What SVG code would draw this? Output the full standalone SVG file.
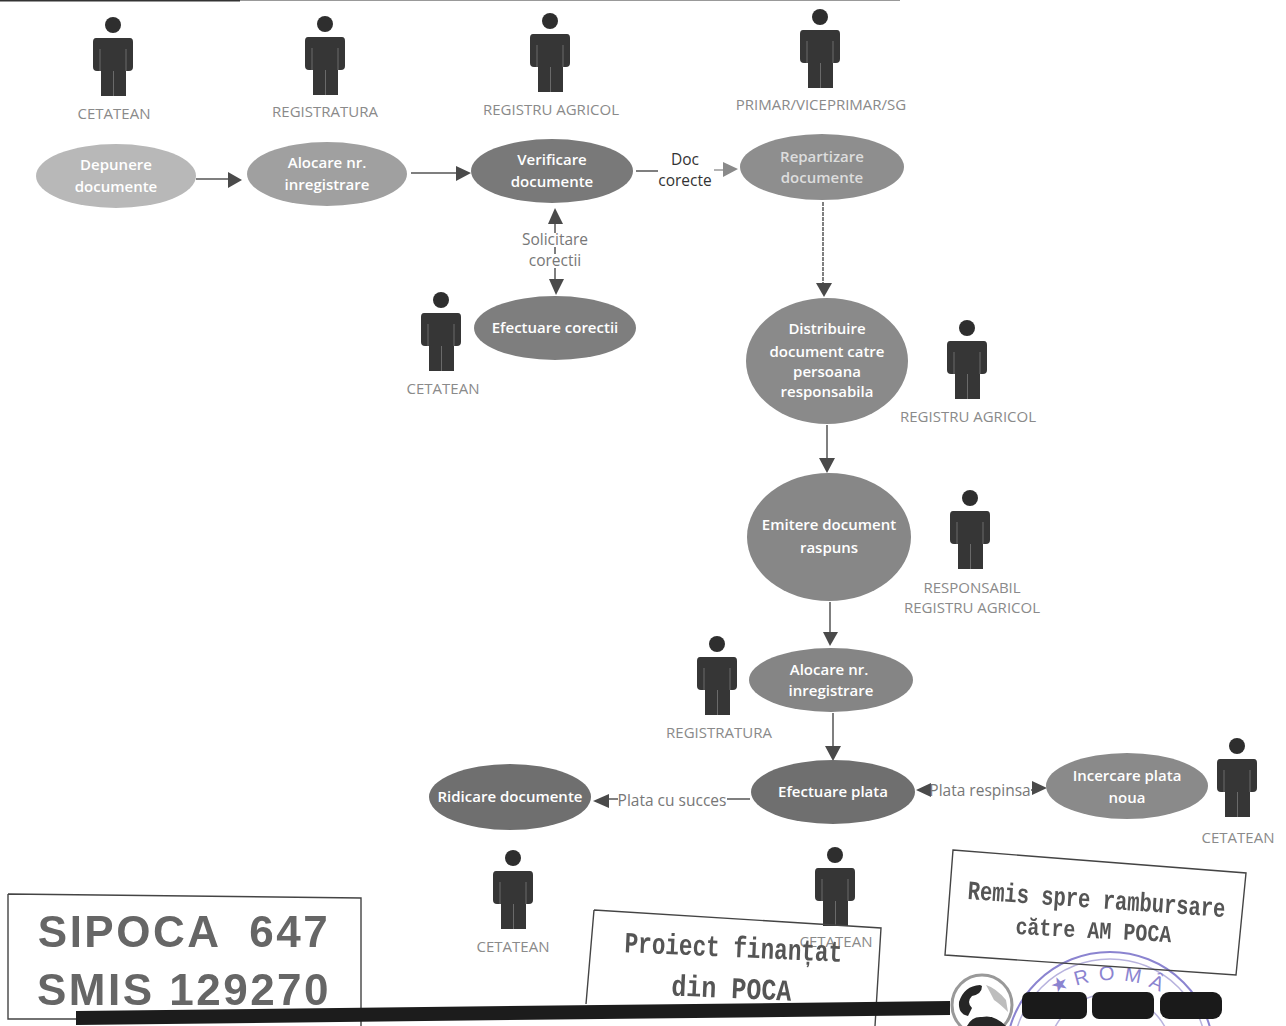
<svg xmlns="http://www.w3.org/2000/svg" width="1286" height="1026" viewBox="0 0 1286 1026">
<style>
.n{stroke:none}
.t{font-family:"Open Sans","Liberation Sans",sans-serif;font-size:15px;fill:#fff;text-anchor:middle;font-weight:600}
.l{font-family:"Open Sans","Liberation Sans",sans-serif;font-size:15px;fill:#8a8a8a;text-anchor:middle}
.c{font-family:"Open Sans","Liberation Sans",sans-serif;font-size:15.5px;fill:#777;text-anchor:middle}
.e{stroke:#555;stroke-width:1.5;fill:none}
.d{fill:#4a4a4a}
.s{fill:none;stroke:#444;stroke-width:1.4}
.b{font-family:"Liberation Sans",sans-serif;font-weight:700;fill:#666;text-anchor:middle}
.m{font-family:"Liberation Mono",monospace;font-weight:700;fill:#555;text-anchor:middle}
.p{font-family:"Liberation Sans",sans-serif;font-size:20px;fill:#8b84d0;text-anchor:middle}
</style>
<defs>
<g id="person"><circle cx="0" cy="0" r="8" fill="#2e2e2e"/><path fill="#363636" d="M-17 13H17Q20 13 20 17V42Q20 46 16 46L13 46V71H-12V46H-16Q-20 46-20 42V17Q-20 13-17 13Z"/><path d="M-13 24V46M13 24V46M0.5 46V71" stroke="#6a6a6a" fill="none"/></g>
<filter id="soft" x="-5%" y="-5%" width="110%" height="110%"><feGaussianBlur stdDeviation="0.5"/></filter>
</defs>
<path d="M0 0.5H240" stroke="#333" stroke-width="2"/><path d="M240 0.5H900" stroke="#999" stroke-width="1"/>

<g id="connectors">
<path class="e" d="M196 179H230"/><path class="d" d="M242 180L228 172V188Z"/>
<path class="e" d="M411 173H458"/><path class="d" d="M471 173L456 166V181Z"/>
<path class="e" d="M636 171H658"/><path class="e" d="M714 170H726" stroke-opacity=".6"/><path fill="#8a8a8a" d="M738 169L723 162V177Z"/>
<path class="e" d="M555 218V285"/><path class="d" d="M555 208L548 224H563Z"/><path class="d" d="M556 295L549 279H564Z"/>
<path class="e" d="M823 202V285" stroke-dasharray="4 1"/><path class="d" d="M824 297L816 283H832Z"/>
<path class="e" d="M827 425V460"/><path class="d" d="M827 473L819 458H835Z"/>
<path class="e" d="M830 602V634"/><path class="d" d="M830 646L823 632H838Z"/>
<path class="e" d="M833 713V748"/><path class="d" d="M833 761L825 746H841Z"/>
<path class="e" d="M750 799H606"/><path class="d" d="M593 801L609 794V808Z"/>
<path class="e" d="M930 790H1032"/><path class="d" d="M916 790L931 783V797Z"/><path class="d" d="M1047 788L1032 781V795Z"/>
</g>
<g id="edge-labels">
<text x="685" y="165" class="c" style="fill:#333">Doc</text><text x="685" y="186" class="c" style="fill:#333">corecte</text>
<rect x="521" y="233" width="68" height="14" fill="#fff"/><rect x="529" y="254" width="53" height="14" fill="#fff"/>
<text x="555" y="245" class="c">Solicitare</text><text x="555" y="266" class="c">corectii</text>
<rect x="618" y="794" width="109" height="15" fill="#fff"/><text x="672" y="806" class="c">Plata cu succes</text>
<rect x="931" y="783" width="100" height="15" fill="#fff"/><text x="980" y="796" class="c">Plata respinsa</text>
</g>

<g id="n-depunere"><ellipse class="n" cx="116" cy="176" rx="80" ry="32" fill="#b8b8b8"/><text class="t" x="116" y="170">Depunere</text><text class="t" x="116" y="192">documente</text></g>
<g id="n-alocare1"><ellipse class="n" cx="327" cy="174" rx="80" ry="32" fill="#a0a0a0"/><text class="t" x="327" y="168">Alocare nr.</text><text class="t" x="327" y="190">inregistrare</text></g>
<g id="n-verificare"><ellipse class="n" cx="552" cy="171" rx="81" ry="32" fill="#797979"/><text class="t" x="552" y="165">Verificare</text><text class="t" x="552" y="187">documente</text></g>
<g id="n-repartizare"><ellipse class="n" cx="822" cy="167" rx="82" ry="33" fill="#8e8e8e"/><text class="t" x="822" y="162" style="fill:#ddd">Repartizare</text><text class="t" x="822" y="183" style="fill:#ddd">documente</text></g>
<g id="n-corectii"><ellipse class="n" cx="555" cy="328" rx="81" ry="32" fill="#7e7e7e"/><text class="t" x="555" y="333">Efectuare corectii</text></g>
<g id="n-distribuire"><ellipse class="n" cx="827" cy="361" rx="81" ry="63" fill="#8a8a8a"/><text class="t" x="827" y="334">Distribuire</text><text class="t" x="827" y="357">document catre</text><text class="t" x="827" y="377">persoana</text><text class="t" x="827" y="397">responsabila</text></g>
<g id="n-emitere"><ellipse class="n" cx="829" cy="537" rx="82" ry="64" fill="#878787"/><text class="t" x="829" y="530">Emitere document</text><text class="t" x="829" y="553">raspuns</text></g>
<g id="n-alocare2"><ellipse class="n" cx="831" cy="680" rx="82" ry="32" fill="#858585"/><text class="t" x="829" y="675">Alocare nr.</text><text class="t" x="831" y="696">inregistrare</text></g>
<g id="n-plata"><ellipse class="n" cx="833" cy="792" rx="82" ry="32" fill="#6f6f6f"/><text class="t" x="833" y="797">Efectuare plata</text></g>
<g id="n-ridicare"><ellipse class="n" cx="510" cy="797" rx="81" ry="33" fill="#6f6f6f"/><text class="t" x="510" y="802">Ridicare documente</text></g>
<g id="n-incercare"><ellipse class="n" cx="1127" cy="786" rx="81" ry="33" fill="#8a8a8a"/><text class="t" x="1127" y="781">Incercare plata</text><text class="t" x="1127" y="803">noua</text></g>

<g id="a-cetatean1"><use href="#person" x="113" y="25"/><text class="l" x="114" y="119">CETATEAN</text></g>
<g id="a-registratura1"><use href="#person" x="325" y="24"/><text class="l" x="325" y="117">REGISTRATURA</text></g>
<g id="a-registru1"><use href="#person" x="550" y="21"/><text class="l" x="551" y="115">REGISTRU AGRICOL</text></g>
<g id="a-primar"><use href="#person" x="820" y="17"/><text class="l" x="821" y="110">PRIMAR/VICEPRIMAR/SG</text></g>
<g id="a-cetatean2"><use href="#person" x="441" y="300"/><text class="l" x="443" y="394">CETATEAN</text></g>
<g id="a-registru2"><use href="#person" x="967" y="328"/><text class="l" x="968" y="422">REGISTRU AGRICOL</text></g>
<g id="a-responsabil"><use href="#person" x="970" y="498"/><text class="l" x="972" y="593">RESPONSABIL</text><text class="l" x="972" y="613">REGISTRU AGRICOL</text></g>
<g id="a-registratura2"><use href="#person" x="717" y="644"/><text class="l" x="719" y="738">REGISTRATURA</text></g>
<g id="a-cetatean3"><use href="#person" x="1237" y="746"/><text class="l" x="1238" y="843">CETATEAN</text></g>
<g id="a-cetatean4"><use href="#person" x="513" y="858"/><text class="l" x="513" y="952">CETATEAN</text></g>
<g id="a-cetatean5"><use href="#person" x="835" y="855"/><text class="l" x="836" y="947">CETATEAN</text></g>

<g id="stamp-seal">
<circle cx="1110" cy="1056" r="104" fill="none" stroke="#8b84d0" stroke-width="2"/>
<circle cx="1110" cy="1056" r="97" fill="none" stroke="#b8b3de" stroke-width="1.5"/>
<circle cx="1110" cy="1056" r="62" fill="none" stroke="#b8b3de" stroke-width="1.5"/>
<text class="p" transform="translate(1062 990) rotate(-24)">★</text>
<text class="p" transform="translate(1083 984) rotate(-15)">R</text>
<text class="p" transform="translate(1107 980) rotate(-3)">O</text>
<text class="p" transform="translate(1132 982) rotate(10)">M</text>
<text class="p" transform="translate(1154 989) rotate(24)">Â</text>
</g>

<g id="stamp-sipoca"><path class="s" d="M8 894L361 898V1026M8 894V1019H76"/><g filter="url(#soft)"><text class="b" x="184" y="947" font-size="44" letter-spacing="2.5" xml:space="preserve">SIPOCA  647</text><text class="b" x="184" y="1005" font-size="44" letter-spacing="2.5">SMIS 129270</text></g></g>
<g id="stamp-finantat"><path class="s" d="M594 910L881 928L875 1026M594 910L586 1004"/><g filter="url(#soft)"><text class="m" transform="translate(733 957) rotate(2.5) scale(1,1.3)" font-size="22.7">Proiect finanțat</text><text class="m" transform="translate(731 998) rotate(2.5) scale(1,1.2)" font-size="25">din POCA</text></g></g>
<g id="stamp-remis"><path class="s" d="M953 850L1246 873L1236 975L945 955Z"/><g filter="url(#soft)"><text class="m" transform="translate(1096 908) rotate(4) scale(1,1.3)" font-size="20.5">Remis spre rambursare</text><text class="m" transform="translate(1093 938) rotate(3) scale(1,1.2)" font-size="20">către AM POCA</text></g></g>

<g id="footer">
<path d="M76 1011L950 1001V1015L76 1025Z" fill="#1c1c1c"/>
<circle cx="982" cy="1005" r="30" fill="#fff" stroke="#999" stroke-width="3"/>
<path d="M986 985Q996 988 1006 1000L1008 1012Q1000 1004 994 1000Q990 992 986 985Z" fill="#bdbdbd"/>
<path d="M980 985Q964 986 959 1002Q958 1014 968 1016L972 1008Q966 1002 972 996Q982 994 982 986Z" fill="#262626"/>
<path d="M967 1026Q972 1016 982 1017Q994 1014 1006 1026Z" fill="#262626"/>
<rect x="1022" y="992" width="65" height="27" rx="7" fill="#1a1a1a"/>
<rect x="1092" y="992" width="62" height="27" rx="7" fill="#1a1a1a"/>
<rect x="1160" y="992" width="62" height="27" rx="9" fill="#1a1a1a"/>
</g>
</svg>
